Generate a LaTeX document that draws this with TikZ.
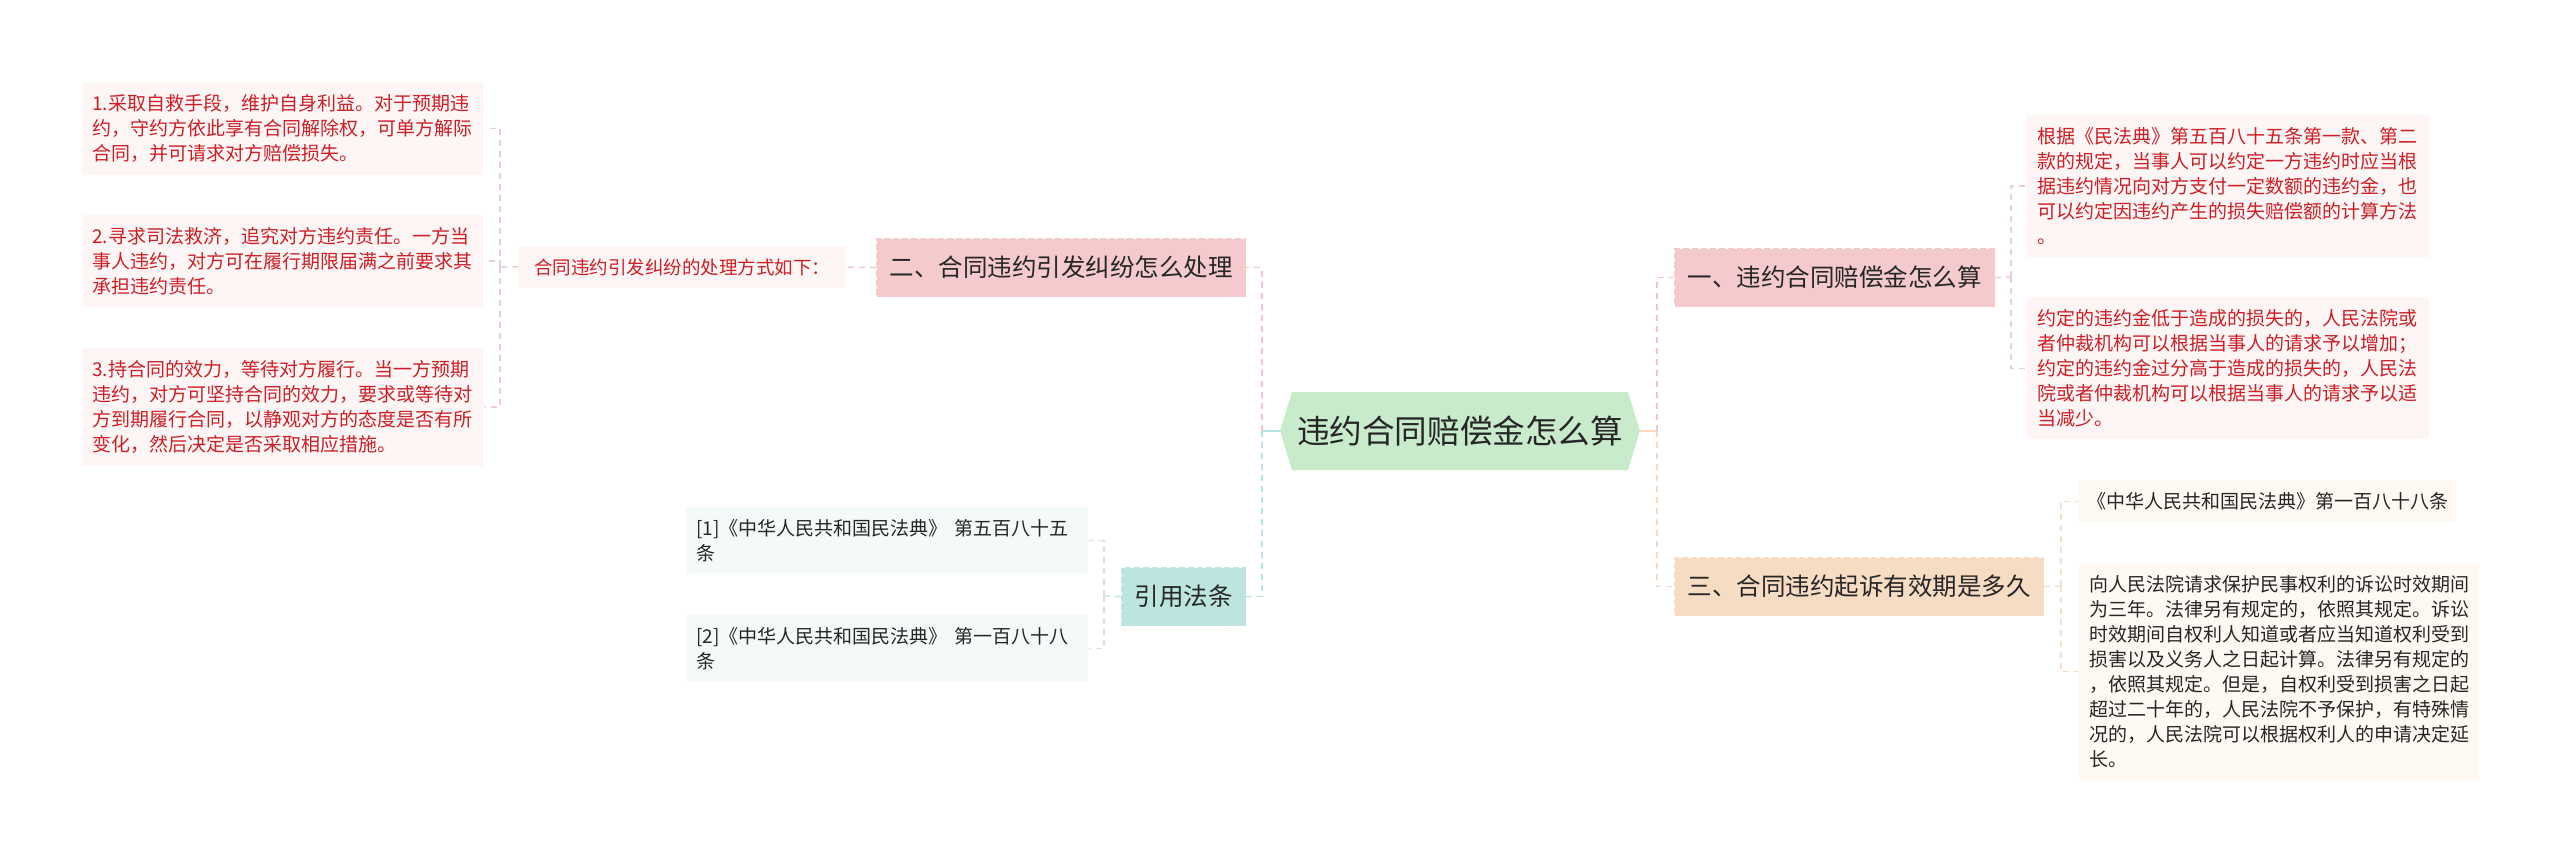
\documentclass[tikz,border=0pt]{standalone}
\usepackage{fontspec}
\setmainfont{Noto Sans CJK SC}
\definecolor{rootgreen}{HTML}{C8EBCC}
\definecolor{pinkfill}{HTML}{FBDFE0}
\definecolor{pinkedge}{HTML}{F4CACD}
\definecolor{peachfill}{HTML}{FDEDDE}
\definecolor{peachedge}{HTML}{F7DCC4}
\definecolor{cyanfill}{HTML}{D3F1EC}
\definecolor{cyanedge}{HTML}{BCE5DF}
\definecolor{leafpink}{HTML}{FEF5F5}
\definecolor{citefill}{HTML}{F4FAFA}
\definecolor{creamfill}{HTML}{FEFAF3}
\definecolor{leafred}{HTML}{CC1F26}
\definecolor{textdark}{HTML}{262626}
\definecolor{linepink}{HTML}{F4C5C9}
\definecolor{linecyan}{HTML}{B8E4DF}
\definecolor{linepeach}{HTML}{F8D8BF}
\definecolor{twigpink}{HTML}{EACFD2}
\definecolor{twigcyan}{HTML}{CFE3E1}
\definecolor{twigpeach}{HTML}{F3E0CF}

\begin{document}
\begin{tikzpicture}[x=0.5pt,y=-0.5pt,
  leaf/.style={anchor=north west,inner xsep=5pt,inner ysep=6pt,text width=191pt,align=left,font=\fontsize{9.5}{12.5}\selectfont},
  leafred/.style={leaf,fill=leafpink,text=leafred},
  leafcite/.style={leaf,fill=citefill,text=textdark},
  leafcream/.style={leaf,fill=creamfill,text=textdark},
  branch/.style={anchor=north west,draw,dash pattern=on 3pt off 1.5pt,line width=.6pt,inner xsep=6.5pt,minimum height=29pt,font=\fontsize{12.25}{14}\selectfont,text=textdark},
  link/.style={line width=.75pt,dash pattern=on 3pt off 2.5pt},
  stem/.style={line width=.75pt}]
\path[use as bounding box,fill=white] (0,0) rectangle (2560,861);

% centre
\node[fill=white,minimum width=180pt,minimum height=39pt,inner sep=0pt,text=textdark,font=\fontsize{16.3}{18}\selectfont,
  path picture={\fill[rootgreen] (path picture bounding box.west) -- ([xshift=6pt]path picture bounding box.north west) -- ([xshift=-6pt]path picture bounding box.north east) -- (path picture bounding box.east) -- ([xshift=-6pt]path picture bounding box.south east) -- ([xshift=6pt]path picture bounding box.south west) -- cycle;}]
  (root) at (1460,431) {违约合同赔偿金怎么算};

% left side
\node[branch,fill=pinkfill,pinkedge] (b2) at (876,238) {\color{textdark}二、合同违约引发纠纷怎么处理};
\node[anchor=north west,fill=leafpink,text=leafred,inner xsep=8pt,inner ysep=6pt,font=\fontsize{9.25}{12}\selectfont] (m2) at (518,246) {合同违约引发纠纷的处理方式如下：};
\node[leafred] (l1) at (82,82) {1.采取自救手段，维护自身利益。对于预期违\\约，守约方依此享有合同解除权，可单方解际\\合同，并可请求对方赔偿损失。};
\node[leafred] (l2) at (82,215) {2.寻求司法救济，追究对方违约责任。一方当\\事人违约，对方可在履行期限届满之前要求其\\承担违约责任。};
\node[leafred] (l3) at (82,348) {3.持合同的效力，等待对方履行。当一方预期\\违约，对方可坚持合同的效力，要求或等待对\\方到期履行合同，以静观对方的态度是否有所\\变化，然后决定是否采取相应措施。};

\node[branch,fill=cyanfill,cyanedge] (cite) at (1121,567) {\color{textdark}引用法条};
\node[leafcite] (c1) at (686,507) {[1]《中华人民共和国民法典》 第五百八十五\\条};
\node[leafcite] (c2) at (686,615) {[2]《中华人民共和国民法典》 第一百八十八\\条};

% right side
\node[branch,fill=pinkfill,pinkedge] (b1) at (1674,248) {\color{textdark}一、违约合同赔偿金怎么算};
\node[leafred] (r1) at (2027,115) {根据《民法典》第五百八十五条第一款、第二\\款的规定，当事人可以约定一方违约时应当根\\据违约情况向对方支付一定数额的违约金，也\\可以约定因违约产生的损失赔偿额的计算方法\\。};
\node[leafred] (r2) at (2027,297) {约定的违约金低于造成的损失的，人民法院或\\者仲裁机构可以根据当事人的请求予以增加；\\约定的违约金过分高于造成的损失的，人民法\\院或者仲裁机构可以根据当事人的请求予以适\\当减少。};

\node[branch,fill=peachfill,peachedge] (b3) at (1674,557) {\color{textdark}三、合同违约起诉有效期是多久};
\node[anchor=north west,fill=creamfill,text=textdark,inner xsep=4pt,inner ysep=6pt,font=\fontsize{9.5}{12.5}\selectfont] (r3) at (2079,480) {《中华人民共和国民法典》第一百八十八条};
\node[leafcream,text width=190pt] (r4) at (2079,563) {向人民法院请求保护民事权利的诉讼时效期间\\为三年。法律另有规定的，依照其规定。诉讼\\时效期间自权利人知道或者应当知道权利受到\\损害以及义务人之日起计算。法律另有规定的\\，依照其规定。但是，自权利受到损害之日起\\超过二十年的，人民法院不予保护，有特殊情\\况的，人民法院可以根据权利人的申请决定延\\长。};

% trunks
\coordinate (lt) at (1262,431);
\coordinate (rt) at (1657,431);
\coordinate (t2) at (500,267);
\coordinate (tc) at (1104,596);
\coordinate (t1) at (2011,277);
\coordinate (t3) at (2061,586);

\draw[stem,linecyan] (root.west) -- (lt);
\draw[link,linepink] (lt) |- (b2.east);
\draw[link,linecyan] (lt) |- (cite.east);
\draw[stem,linepeach] (root.east) -- (rt);
\draw[link,linepink] (rt) |- (b1.west);
\draw[link,linepeach] (rt) |- (b3.west);

\draw[link,twigpink] (b2.west) -- (m2.east);
\draw[link,twigpink] (m2.west) -- (t2);
\draw[link,twigpink] (t2) |- (l1.east);
\draw[link,twigpink] (t2) |- (l2.east);
\draw[link,twigpink] (t2) |- (l3.east);

\draw[link,twigcyan] (cite.west) -- (tc);
\draw[link,twigcyan] (tc) |- (c1.east);
\draw[link,twigcyan] (tc) |- (c2.east);

\draw[link,twigpink] (b1.east) -- (t1);
\draw[link,twigpink] (t1) |- (r1.west);
\draw[link,twigpink] (t1) |- (r2.west);

\draw[link,twigpeach] (b3.east) -- (t3);
\draw[link,twigpeach] (t3) |- (r3.west);
\draw[link,twigpeach] (t3) |- (r4.west);
\end{tikzpicture}
\end{document}
